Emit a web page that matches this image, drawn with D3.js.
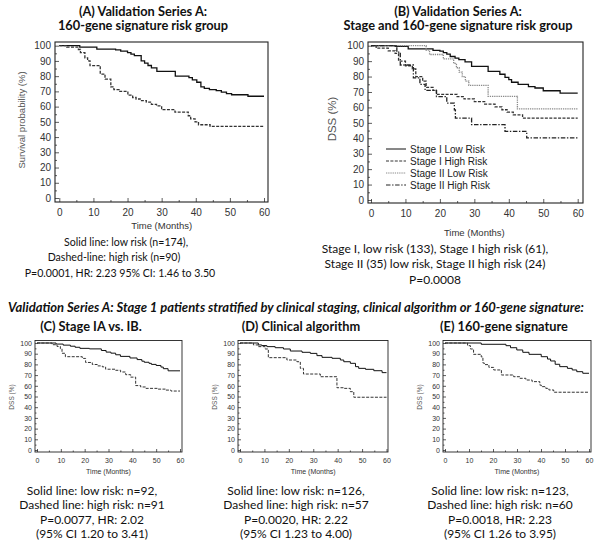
<!DOCTYPE html>
<html>
<head>
<meta charset="utf-8">
<script src="https://cdn.jsdelivr.net/npm/d3@7/dist/d3.min.js"></script>
<style>
body { margin: 0; background: white; }
</style>
</head>
<body>
<svg id="chart" width="600" height="541"></svg>
<script>

// Tick values shared by all panels.
let monthTicks = [0, 10, 20, 30, 40, 50, 60];
let percentTicks = [0, 10, 20, 30, 40, 50, 60, 70, 80, 90, 100];

// (A) 160-gene signature risk group. [month, survival % from that month on]
let aLowRisk = [[0,100],[6,99],[11,97.8],[16.5,97.3],[18,96.5],[20,95.5],[21,94.5],[22,93.5],[24,90],[25,88.5],[26,87],[27,85.5],[28.6,83.2],[34,80],[38,79],[39,77.5],[40.3,76],[41.5,73],[42.5,72],[44,71.2],[46,70.5],[47.5,69.5],[49,68.5],[50.5,67.8],[55.3,66.8],[60,66.8]];
let aHighRisk = [[0,100],[2.2,99],[5.6,97.5],[6.2,95.5],[7.5,92],[8.3,90],[9,86.9],[12,81.4],[13.4,78],[15.1,73],[16,71.1],[17.5,70],[20.1,67.5],[21.5,66],[22.5,65],[23.7,64],[25.5,63],[27,61.5],[28.5,60.5],[30,58],[33.9,56.4],[37.8,54],[38.5,52],[39.8,50],[40.8,48.1],[44.2,47],[60,47]];

// (B) stage and 160-gene signature risk group.
let bStage1Low = [[0,100],[7,99.5],[10.8,98],[18,97],[20,96.5],[21,95.5],[22,94.5],[23,93],[24.4,92],[25.5,91],[27.3,89.5],[29.2,86.6],[34,83.4],[37.4,81.5],[38.9,79.5],[40,78],[40.8,76.3],[42.7,75],[45.7,73.5],[47.6,72.6],[50,70.8],[54.9,69.3],[60,69.3]];
let bStage1High = [[0,100],[1.5,98.4],[5,96.7],[7,95],[8,90],[10,87],[12,85],[13,80],[15,77],[16,73],[18,71],[19,68.5],[25,67],[27,65.5],[30,63.8],[33,62.1],[36,60.4],[38,58.5],[39.5,57],[41.3,55.2],[44,53],[60,53]];
let bStage2Low = [[0,100],[16,97.1],[17,94.3],[21,91.4],[24,88.5],[24.8,85.7],[25.6,82.9],[26.5,80],[27.4,77.1],[28.4,74.3],[34,67.2],[42.5,59],[60,59]];
let bStage2High = [[0,100],[7.5,95.8],[8.5,87.5],[12.3,79.2],[14.2,75],[15.7,71],[19,67],[22,62.8],[24.2,58.4],[24.5,53],[29.2,48.8],[38.9,44.5],[45.2,40.2],[60,40.2]];
let bLegendLabels = ["Stage I Low Risk", "Stage I High Risk", "Stage II Low Risk", "Stage II High Risk"];

// (C) Stage IA vs. IB.
let cLowRisk = [[0,100],[8,99],[11,98],[14,97],[16,96],[18,95],[22,94.5],[27,93],[29,91.5],[31,90.5],[33,89],[35,87.5],[39,86],[42,84.5],[44,83],[45,82],[47,81],[48,80],[50,79],[52,77.5],[53,76],[55,74],[60,74]];
let cHighRisk = [[0,100],[6.3,98.4],[8.4,96.8],[9.8,94.6],[10.5,90.4],[11.9,87.2],[19,85.6],[20.4,81.8],[23.2,79.9],[25.3,78.6],[27.4,77.7],[28.8,75.5],[33,74.5],[35.1,72.9],[37.2,70.4],[39.3,68.1],[41.4,60.2],[43.5,58.9],[45.7,57.6],[50.6,56.9],[54.1,56],[56.2,55.1],[60,55.1]];

// (D) Clinical algorithm.
let dLowRisk = [[0,100],[7.5,98.2],[8.9,97.6],[11,96.6],[14.4,95.6],[17.8,94.4],[20.6,92.5],[25.4,91.3],[28.8,90.3],[31.5,88.2],[33.6,86.6],[37.7,85.7],[41.1,84.1],[42.5,82.5],[45.2,81],[47.3,77.9],[48.6,76.3],[51.4,75.4],[54.8,74.1],[58.2,72.3],[60,72.3]];
let dHighRisk = [[0,100],[5.5,98.2],[7.5,96.6],[10.3,94.4],[11.6,86.3],[19.2,84.1],[23.3,82.5],[24.7,76.3],[26,71],[32.9,68.5],[39.7,58.2],[42.5,57.6],[45.2,54.5],[46.6,49.3],[60,49.3]];

// (E) 160-gene signature.
let eLowRisk = [[0,100],[15.1,98.8],[25.4,97.5],[27.3,95.6],[29.9,93.5],[32.4,91.3],[35,89.4],[40.1,87.2],[42.7,85],[44,83.2],[45.9,80.1],[47.8,77.9],[51,76.3],[53,74.8],[54.9,73.2],[57.4,71.7],[60,71.7]];
let eHighRisk = [[0,100],[9.4,97.5],[10.6,94.4],[11.9,89.4],[15.1,87],[15.8,81.3],[16.4,79.8],[18.3,77.2],[20.3,74.8],[23.5,70.1],[28.6,68.5],[31.2,67],[33.7,65.4],[36.3,63.9],[39.5,60.7],[40.1,59.2],[42,57.6],[43.3,56.1],[45.3,54],[60,54]];

// Titles and captions.
let aTitle = ["(A) Validation Series A:", "160-gene signature risk group"];
let bTitle = ["(B) Validation Series A:", "Stage and 160-gene signature risk group"];
let aCaption = ["Solid line: low risk (n=174),", "Dashed-line: high risk (n=90)", "P=0.0001, HR: 2.23 95% CI: 1.46 to 3.50"];
let bCaption = ["Stage I, low risk (133), Stage I high risk (61),", "Stage II (35) low risk, Stage II high risk (24)", "P=0.0008"];
let sectionHeading = "Validation Series A: Stage 1 patients stratified by clinical staging, clinical algorithm or 160-gene signature:";
let cTitle = "(C) Stage IA vs. IB.";
let dTitle = "(D) Clinical algorithm";
let eTitle = "(E) 160-gene signature";
let cCaption = ["Solid line: low risk: n=92,", "Dashed line: high risk: n=91", "P=0.0077, HR: 2.02", "(95% CI 1.20 to 3.41)"];
let dCaption = ["Solid line: low risk: n=126,", "Dashed line: high risk: n=57", "P=0.0020, HR: 2.22", "(95% CI 1.23 to 4.00)"];
let eCaption = ["Solid line: low risk: n=123,", "Dashed line: high risk: n=60", "P=0.0018, HR: 2.23", "(95% CI 1.26 to 3.95)"];


// Line styles.
let styles = {
	solid:   {stroke: "#111", dash: null},
	dashed:  {stroke: "#333", dash: "3,1.4"},
	dotted:  {stroke: "#8a8a8a", dash: "1.3,0.9"},
	dashdot: {stroke: "#222", dash: "4.5,1.6,1.4,1.6"}
};

let svg = d3.select("#chart");
svg.append("rect").attr("width", 600).attr("height", 541).attr("fill", "white");

let titleFont = "Lato, 'Noto Sans', sans-serif";
let axisFont = "'Liberation Sans', Arial, sans-serif";


function drawPanel(cfg){
	// One Kaplan-Meier frame with its axes and curves.
	let g = svg.append("g");
	let x = d3.scaleLinear().domain([0, 60]).range(cfg.xRange);
	let y = d3.scaleLinear().domain([0, 100]).range(cfg.yRange);
	let [bx0, bx1, by0, by1] = cfg.box;
	let small = cfg.small;
	
	
	// y axis, ticks pointing inwards.
	let yAxis = g.append("g")
	  .attr("transform", `translate(${bx0},0)`)
	  .call(d3.axisLeft(y).tickValues(percentTicks).tickSize(small ? -3 : -4).tickPadding(small ? 3 : 4));
	let yMinor = g.append("g")
	  .attr("transform", `translate(${bx0},0)`)
	  .call(d3.axisLeft(y).tickValues(percentTicks.slice(1).map(v=>v-5)).tickSize(small ? -1.5 : -2).tickFormat(""));
	
	let xAxis = g.append("g")
	  .attr("transform", `translate(0,${by1})`)
	  .call(d3.axisBottom(x).tickValues(monthTicks).tickSize(small ? -3 : -4).tickPadding(small ? 6 : 6.5));
	let xMinor = g.append("g")
	  .attr("transform", `translate(0,${by1})`)
	  .call(d3.axisBottom(x).tickValues(monthTicks.slice(1).map(v=>v-5)).tickSize(small ? -1.5 : -2).tickFormat(""));
	
	[yAxis, yMinor, xAxis, xMinor].forEach(a=>{
		a.select(".domain").remove();
		a.selectAll("line").attr("stroke", "#333").attr("stroke-width", 0.8);
		a.selectAll("text")
		  .attr("font-family", axisFont)
		  .attr("font-size", small ? 7 : 10)
		  .attr("fill", "#333");
	}) // forEach
	
	
	// frame
	g.append("rect")
	  .attr("x", bx0).attr("y", by0)
	  .attr("width", bx1 - bx0).attr("height", by1 - by0)
	  .attr("fill", "none")
	  .attr("stroke", "#222")
	  .attr("stroke-width", small ? 0.9 : 1.1);
	
	
	// curves
	let line = d3.line()
	  .x(d=>x(d[0]))
	  .y(d=>y(d[1]))
	  .curve(d3.curveStepAfter);
	
	cfg.series.forEach(s=>{
		g.append("path")
		  .attr("d", line(s.data))
		  .attr("fill", "none")
		  .attr("stroke", styles[s.style].stroke)
		  .attr("stroke-width", small ? 1 : 1.3)
		  .attr("stroke-dasharray", styles[s.style].dash);
	}) // forEach
	
	
	// axis titles
	g.append("text")
	  .attr("transform", `translate(${cfg.yLabelX},${cfg.yLabelY})  rotate(-90)`)
	  .attr("text-anchor", "middle")
	  .attr("font-family", axisFont)
	  .attr("font-size", cfg.yLabelSize)
	  .attr("fill", "#555")
	  .text(cfg.yLabel);
	
	g.append("text")
	  .attr("x", (x(0)+x(60))/2)
	  .attr("y", cfg.timeY)
	  .attr("text-anchor", "middle")
	  .attr("font-family", axisFont)
	  .attr("font-size", small ? 7 : 9.5)
	  .attr("fill", "#333")
	  .text("Time (Months)");
	
	return {g: g, x: x, y: y};
} // drawPanel


function writeLines(lines, cx, y0, dy, size, weight){
	lines.forEach((t,i)=>{
		svg.append("text")
		  .attr("x", Array.isArray(cx) ? cx[i] : cx)
		  .attr("y", y0 + i*dy)
		  .attr("text-anchor", "middle")
		  .attr("font-family", titleFont)
		  .attr("font-size", size)
		  .attr("font-weight", weight || "normal")
		  .attr("fill", "#111")
		  .text(t);
	}) // forEach
} // writeLines



// Top row.
drawPanel({
	box: [55, 268, 42, 202], xRange: [59.3, 264], yRange: [198, 45.7],
	yLabel: "Survival probability (%)", yLabelX: 25, yLabelY: 120, yLabelSize: 9.5, timeY: 228.5,
	series: [{data: aLowRisk, style: "solid"}, {data: aHighRisk, style: "dashed"}]
});

let panelB = drawPanel({
	box: [368, 583, 42, 203], xRange: [371, 577.7], yRange: [200, 45.7],
	yLabel: "DSS (%)", yLabelX: 336, yLabelY: 119, yLabelSize: 11.5, timeY: 236,
	series: [
		{data: bStage1Low, style: "solid"},
		{data: bStage2Low, style: "dotted"},
		{data: bStage1High, style: "dashed"},
		{data: bStage2High, style: "dashdot"}
	]
});

// Legend of panel B.
let legendStyles = ["solid", "dashed", "dotted", "dashdot"];
bLegendLabels.forEach((label,i)=>{
	let ly = 149 + i*12;
	panelB.g.append("line")
	  .attr("x1", 386).attr("x2", 406)
	  .attr("y1", ly).attr("y2", ly)
	  .attr("stroke", styles[legendStyles[i]].stroke)
	  .attr("stroke-width", 1)
	  .attr("stroke-dasharray", styles[legendStyles[i]].dash);
	panelB.g.append("text")
	  .attr("x", 410).attr("y", ly + 3.6)
	  .attr("font-family", axisFont)
	  .attr("font-size", 10)
	  .attr("fill", "#222")
	  .text(label);
}) // forEach

writeLines(aTitle, 143, 15.5, 14.5, 12.8, "bold");
writeLines(bTitle, 458, 15.5, 14.5, 12.8, "bold");
writeLines(aCaption, [126, 114, 120], 245.5, 15.5, 10.6);
writeLines(bCaption, 435, 252.5, 15.5, 12);


// Bottom row.
svg.append("text")
  .attr("x", 296).attr("y", 312)
  .attr("text-anchor", "middle")
  .attr("font-family", titleFont)
  .attr("font-size", 13)
  .attr("font-weight", "bold")
  .attr("font-style", "italic")
  .attr("fill", "#111")
  .text(sectionHeading);

let smallPanels = [
	{box: [35, 182, 340.5, 452], xRange: [37, 180], low: cLowRisk, high: cHighRisk, title: cTitle, caption: cCaption, cx: 92, tx: 91},
	{box: [238, 388, 340.5, 452], xRange: [240, 386.5], low: dLowRisk, high: dHighRisk, title: dTitle, caption: dCaption, cx: 296, tx: 301},
	{box: [443, 591, 340.5, 452], xRange: [445, 589], low: eLowRisk, high: eHighRisk, title: eTitle, caption: eCaption, cx: 500, tx: 504}
];

smallPanels.forEach(p=>{
	drawPanel({
		box: p.box, xRange: p.xRange, yRange: [450, 343], small: true,
		yLabel: "DSS (%)", yLabelX: p.box[0] - 21, yLabelY: 397, yLabelSize: 6.5, timeY: 474,
		series: [{data: p.low, style: "solid"}, {data: p.high, style: "dashed"}]
	});
	writeLines([p.title], p.tx, 331, 0, 12.8, "bold");
	writeLines(p.caption, p.cx, 494.5, 14.5, 12);
}) // forEach

</script>
</body>
</html>
